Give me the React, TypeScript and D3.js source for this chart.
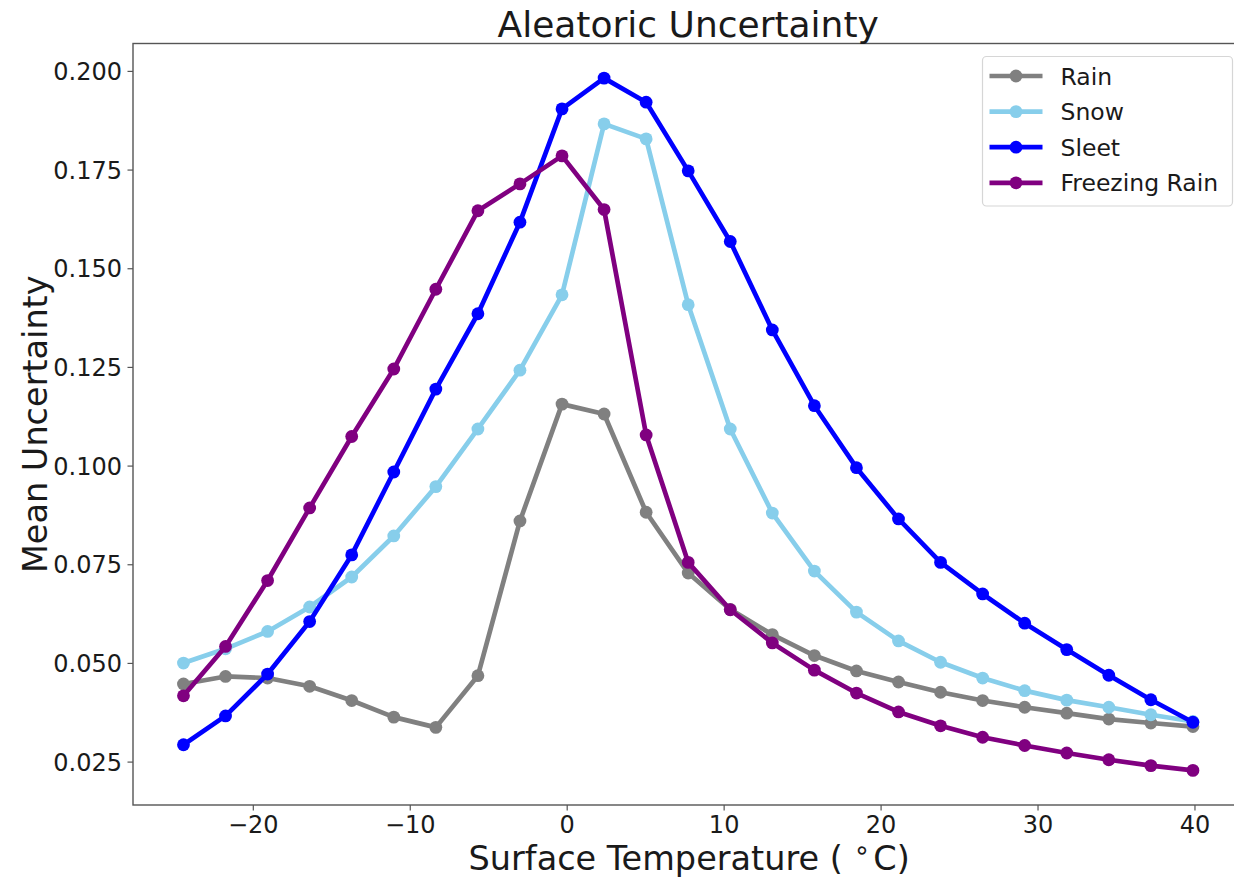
import React from "react";
import * as d3 from "d3";

const temperatures = [-24.45, -21.77, -19.09, -16.41, -13.73, -11.05, -8.37, -5.69, -3.01, -0.33, 2.35, 5.03, 7.71, 10.39, 13.07, 15.75, 18.43, 21.11, 23.79, 26.47, 29.15, 31.83, 34.51, 37.19, 39.87];
const rain = [0.0448, 0.0467, 0.0463, 0.0442, 0.0406, 0.0364, 0.0338, 0.0469, 0.0861, 0.1157, 0.1132, 0.0883, 0.0729, 0.0637, 0.0573, 0.0520, 0.0481, 0.0453, 0.0427, 0.0406, 0.0389, 0.0374, 0.0359, 0.0349, 0.0340];
const snow = [0.0501, 0.0537, 0.0581, 0.0643, 0.0719, 0.0823, 0.0948, 0.1094, 0.1243, 0.1434, 0.1867, 0.1829, 0.1409, 0.1094, 0.0881, 0.0734, 0.0630, 0.0557, 0.0503, 0.0463, 0.0431, 0.0407, 0.0389, 0.0370, 0.0353];
const sleet = [0.0294, 0.0367, 0.0473, 0.0606, 0.0775, 0.0985, 0.1195, 0.1386, 0.1618, 0.1905, 0.1983, 0.1922, 0.1748, 0.1569, 0.1345, 0.1153, 0.0996, 0.0866, 0.0756, 0.0676, 0.0602, 0.0535, 0.0470, 0.0408, 0.0351];
const freezingRain = [0.0418, 0.0543, 0.0710, 0.0894, 0.1075, 0.1246, 0.1448, 0.1647, 0.1715, 0.1786, 0.1650, 0.1079, 0.0756, 0.0636, 0.0552, 0.0483, 0.0425, 0.0377, 0.0342, 0.0313, 0.0292, 0.0273, 0.0256, 0.0241, 0.0229];

const seriesNames = ["Rain", "Snow", "Sleet", "Freezing Rain"];
const seriesColors = ["#808080", "#87CEEB", "#0000FF", "#800080"];
const seriesValues = [rain, snow, sleet, freezingRain];

const xTicks = [-20, -10, 0, 10, 20, 30, 40];
const yTicks = [0.025, 0.05, 0.075, 0.1, 0.125, 0.15, 0.175, 0.2];

const W = 1234;
const H = 877;
const plot = { left: 133, top: 43.5, right: 1243.4, bottom: 805 };
const FONT = "'DejaVu Sans', Verdana, sans-serif";

export default function App() {
  const allY = seriesValues.flat();
  const xMin = d3.min(temperatures)!;
  const xMax = d3.max(temperatures)!;
  const yMin = d3.min(allY)!;
  const yMax = d3.max(allY)!;
  const xPad = (xMax - xMin) * 0.05;
  const yPad = (yMax - yMin) * 0.05;

  const x = d3.scaleLinear().domain([xMin - xPad, xMax + xPad]).range([plot.left, plot.right]);
  const y = d3.scaleLinear().domain([yMin - yPad, yMax + yPad]).range([plot.bottom, plot.top]);

  const line = d3
    .line<[number, number]>()
    .x((d) => x(d[0]))
    .y((d) => y(d[1]));

  const fmtX = (v: number) => (v < 0 ? "\u2212" + Math.abs(v) : String(v));
  const fmtY = d3.format(".3f");

  const legend = { x: 982.5, y: 56.5, w: 250, h: 149.5, rowY0: 76, rowDy: 35.6 };

  return (
    <svg
      width={W}
      height={H}
      style={{ position: "absolute", left: 0, top: 0, background: "#fff" }}
      fontFamily={FONT}
    >
      <rect x={0} y={0} width={W} height={H} fill="#fff" />

      {/* series */}
      {seriesValues.map((vals, si) => {
        const pts: [number, number][] = temperatures.map((t, i) => [t, vals[i]]);
        return (
          <g key={seriesNames[si]}>
            <path d={line(pts) || ""} fill="none" stroke={seriesColors[si]} strokeWidth={4.7} strokeLinejoin="round" />
            {pts.map((p, i) => (
              <circle key={i} cx={x(p[0])} cy={y(p[1])} r={6.4} fill={seriesColors[si]} />
            ))}
          </g>
        );
      })}

      {/* spines */}
      <rect
        x={plot.left}
        y={plot.top}
        width={plot.right - plot.left}
        height={plot.bottom - plot.top}
        fill="none"
        stroke="#555"
        strokeWidth={1.4}
      />

      {/* x ticks */}
      {xTicks.map((t) => (
        <g key={t}>
          <line x1={x(t)} x2={x(t)} y1={plot.bottom} y2={plot.bottom + 5.5} stroke="#555" strokeWidth={1.2} />
          <text x={x(t)} y={833} textAnchor="middle" fontSize={24} fill="#1a1a1a">
            {fmtX(t)}
          </text>
        </g>
      ))}

      {/* y ticks */}
      {yTicks.map((t) => (
        <g key={t}>
          <line x1={plot.left - 5.5} x2={plot.left} y1={y(t)} y2={y(t)} stroke="#555" strokeWidth={1.2} />
          <text x={122} y={y(t) + 8.7} textAnchor="end" fontSize={24} fill="#1a1a1a">
            {fmtY(t)}
          </text>
        </g>
      ))}

      {/* title */}
      <text x={(plot.left + plot.right) / 2} y={36.5} textAnchor="middle" fontSize={36} fill="#1a1a1a">
        Aleatoric Uncertainty
      </text>

      {/* x label */}
      <text x={(plot.left + plot.right) / 2 + 1} y={870} textAnchor="middle" fontSize={33.5} fill="#1a1a1a">
        Surface Temperature ({"\u00a0"}
        <tspan fontSize={27} dy={-11}>
          {"\u2218"}
        </tspan>
        <tspan dy={11} dx={3}>C)</tspan>
      </text>

      {/* y label */}
      <text
        transform={`translate(46.5, ${(plot.top + plot.bottom) / 2}) rotate(-90)`}
        textAnchor="middle"
        fontSize={33.5}
        fill="#1a1a1a"
      >
        Mean Uncertainty
      </text>

      {/* legend */}
      <g>
        <rect
          x={legend.x}
          y={legend.y}
          width={legend.w}
          height={legend.h}
          rx={4}
          ry={4}
          fill="#fff"
          fillOpacity={0.85}
          stroke="#d6d6d6"
          strokeWidth={1.2}
        />
        {seriesNames.map((name, i) => {
          const ry = legend.rowY0 + i * legend.rowDy;
          return (
            <g key={name}>
              <line x1={989.5} x2={1042.5} y1={ry} y2={ry} stroke={seriesColors[i]} strokeWidth={4.7} />
              <circle cx={1016} cy={ry} r={6.4} fill={seriesColors[i]} />
              <text x={1060.5} y={ry + 8.5} fontSize={23.5} fill="#1a1a1a">
                {name}
              </text>
            </g>
          );
        })}
      </g>
    </svg>
  );
}
